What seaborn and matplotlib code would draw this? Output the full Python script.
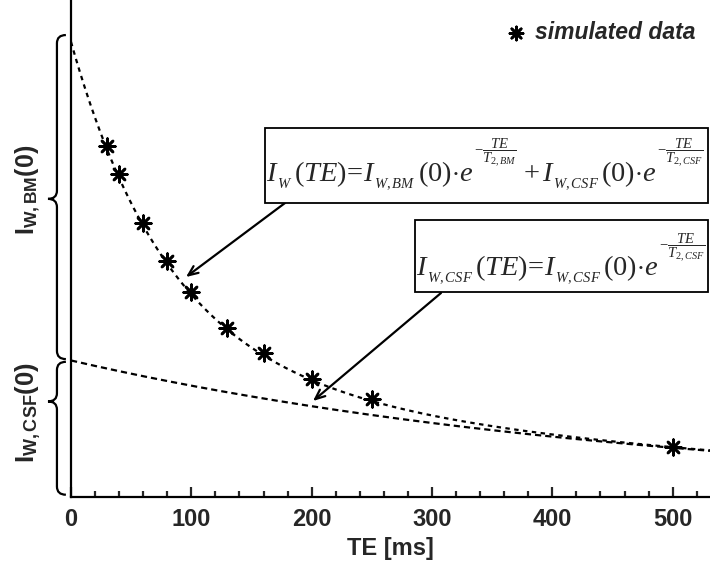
import numpy as np
import pandas as pd
import matplotlib
matplotlib.use("Agg")
import matplotlib.pyplot as plt
from matplotlib.path import Path
from matplotlib.patches import PathPatch, Rectangle, FancyArrowPatch
import matplotlib.transforms as mtransforms
import seaborn as sns

# Simulated water signal samples (TE in ms, normalised intensity)
te_samples = [30, 40, 60, 80, 100, 130, 160, 200, 250, 500]
signal_samples = [0.772, 0.710, 0.603, 0.518, 0.451, 0.371, 0.316, 0.259, 0.215, 0.109]

# Bi-exponential model parameters
i_bm0 = 0.70      # I_W,BM(0)
i_csf0 = 0.30     # I_W,CSF(0)
t2_bm = 80.0      # ms
t2_csf = 490.0    # ms

x_ticks = [0, 100, 200, 300, 400, 500]
x_max = 531
y_max = 1.092

sns.set_theme(style="white")
plt.rcParams["font.family"] = ["Liberation Sans", "DejaVu Sans"]
plt.rcParams["mathtext.fontset"] = "custom"
plt.rcParams["mathtext.rm"] = "Liberation Serif"
plt.rcParams["mathtext.it"] = "Liberation Serif:italic"
plt.rcParams["mathtext.bf"] = "Liberation Sans:bold"

W, H = 710, 564
fig = plt.figure(figsize=(W / 100, H / 100), dpi=100)
ax = fig.add_axes([71 / W, (H - 497) / H, (W - 71) / W, 497 / H])


def px(x, y):
    """Pixel position (from top-left) to figure fraction."""
    return x / W, 1 - y / H


te = np.linspace(0, x_max, 400)
csf_curve = i_csf0 * np.exp(-te / t2_csf)
total_curve = i_bm0 * np.exp(-te / t2_bm) + csf_curve
curves = pd.DataFrame({"TE": te, "total": total_curve, "csf": csf_curve})

sns.lineplot(data=curves, x="TE", y="total", ax=ax, color="black", lw=1.6,
             dashes=False, linestyle=(0, (2.0, 2.0)))
sns.lineplot(data=curves, x="TE", y="csf", ax=ax, color="black", lw=1.6,
             dashes=False, linestyle=(0, (2.8, 1.8)))

pts = pd.DataFrame({"TE": te_samples, "signal": signal_samples})
sns.scatterplot(data=pts, x="TE", y="signal", ax=ax, marker=(8, 2, 0),
                color="black", edgecolor="black", s=125, linewidth=1.9,
                label="simulated data", zorder=5)

ax.set_xlim(0, x_max)
ax.set_ylim(0, y_max)
ax.set_xticks(x_ticks)
ax.set_xticks(np.arange(20, x_max, 20), minor=True)
ax.set_yticks([])
ax.tick_params(axis="x", which="major", direction="in", length=7, width=1.6,
               labelsize=17, pad=8, bottom=True)
ax.tick_params(axis="x", which="minor", direction="in", length=4, width=1.6,
               bottom=True)
for lab in ax.get_xticklabels():
    lab.set_fontweight("bold")
ax.set_xlabel("TE [ms]", fontsize=17, fontweight="bold", labelpad=4)
ax.set_ylabel("")
for side in ["top", "right"]:
    ax.spines[side].set_visible(False)
for side in ["left", "bottom"]:
    ax.spines[side].set_color("black")
    ax.spines[side].set_linewidth(1.6)

leg = ax.legend(loc="upper right", bbox_to_anchor=(0.999, 0.985), frameon=False,
                handlelength=1.0, handletextpad=0.35, borderaxespad=0.2,
                markerscale=0.85,
                prop={"weight": "bold", "style": "italic", "size": 16.5})

# Curly braces marking the two initial intensities
brace_tr = mtransforms.blended_transform_factory(ax.transAxes, ax.transData)


def brace(y_bot, y_top, y_tip):
    x_end, x_mid, x_tip = -0.008, -0.022, -0.036
    r = 0.018
    verts = [(x_end, y_top), (x_mid, y_top), (x_mid, y_top - r),
             (x_mid, y_tip + r),
             (x_mid, y_tip), (x_tip, y_tip),
             (x_mid, y_tip), (x_mid, y_tip - r),
             (x_mid, y_bot + r),
             (x_mid, y_bot), (x_end, y_bot)]
    codes = [Path.MOVETO, Path.CURVE3, Path.CURVE3, Path.LINETO,
             Path.CURVE3, Path.CURVE3, Path.CURVE3, Path.CURVE3,
             Path.LINETO, Path.CURVE3, Path.CURVE3]
    patch = PathPatch(Path(verts, codes), fill=False, edgecolor="black",
                      lw=1.6, transform=brace_tr, clip_on=False)
    ax.add_patch(patch)


total0 = i_bm0 + i_csf0
brace(i_csf0 + 0.003, total0 + 0.015, (i_csf0 + total0) / 2 + 0.005)
brace(0.005, i_csf0 - 0.003, 0.21)

fig.text(*px(28, 190), r"I$_\mathbf{W,BM}$(0)", rotation=90, fontsize=18,
         fontweight="bold", ha="center", va="center")
fig.text(*px(28, 413), r"I$_\mathbf{W,CSF}$(0)", rotation=90, fontsize=18.5,
         fontweight="bold", ha="center", va="center")


# Formula boxes
def box(x0, y0, x1, y1):
    fx0, fy1 = px(x0, y0)
    fx1, fy0 = px(x1, y1)
    fig.patches.append(Rectangle((fx0, fy0), fx1 - fx0, fy1 - fy0,
                                 transform=fig.transFigure, facecolor="white",
                                 edgecolor="black", lw=1.3, zorder=3))


box(265, 128, 708, 203)
box(415, 220, 708, 292)

renderer = fig.canvas.get_renderer()


def chain(pieces, x0, base_y):
    """Lay out formula pieces left to right on a common baseline."""
    x = x0
    for s, size, rise, gap in pieces:
        x += gap
        t = fig.text(*px(x, base_y - rise), s, fontsize=size, ha="left",
                     va="baseline", zorder=4)
        x = t.get_window_extent(renderer).x1


FS, SS, ES = 20.5, 10.5, 10.5
DROP, SG = -7, -2
chain([(r"$I$", FS, 0, 0),
       (r"$W$", SS, DROP, SG),
       (r"$(TE)\!=\!I$", FS, 0, 2),
       (r"$W,BM$", SS, DROP, SG),
       (r"$(0){\cdot}e$", FS, 0, 2),
       (r"$-\dfrac{TE}{T_{2,BM}}$", ES, 25, 1),
       (r"$+\,I$", FS, 0, 6),
       (r"$W,CSF$", SS, DROP, SG),
       (r"$(0){\cdot}e$", FS, 0, 2),
       (r"$-\dfrac{TE}{T_{2,CSF}}$", ES, 25, 1)], 266, 181)
chain([(r"$I$", FS, 0, 0),
       (r"$W,CSF$", SS, DROP, SG),
       (r"$(TE)\!=\!I$", FS, 0, 2),
       (r"$W,CSF$", SS, DROP, SG),
       (r"$(0){\cdot}e$", FS, 0, 2),
       (r"$-\dfrac{TE}{T_{2,CSF}}$", ES, 24, 1)], 416, 275)

# Arrows from the formulas to their curves
for (sx, sy), (ex, ey) in [((285, 203), (186, 277)), ((441, 293), (313, 401))]:
    arr = FancyArrowPatch(px(sx, sy), px(ex, ey), transform=fig.transFigure,
                          arrowstyle="->,head_length=7,head_width=3",
                          color="black", lw=1.6, shrinkA=0, shrinkB=0)
    fig.patches.append(arr)

fig.savefig("out.png", dpi=100)
